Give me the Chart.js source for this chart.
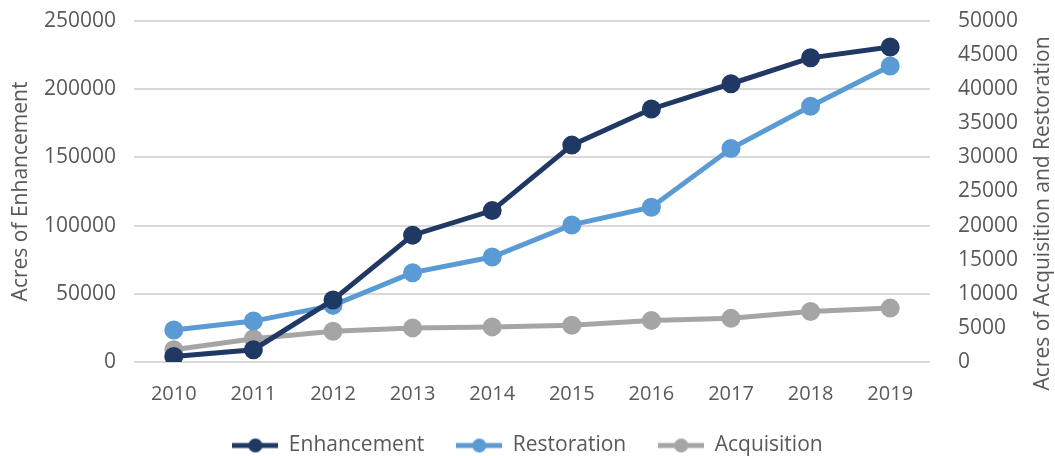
<!DOCTYPE html>
<html>
<head>
<meta charset="utf-8">
<script src="https://cdn.jsdelivr.net/npm/chart.js@4/dist/chart.umd.min.js"></script>
<style>
  html, body { margin: 0; padding: 0; background: #fff; }
  #wrap { width: 1055px; height: 456px; position: relative; }
</style>
</head>
<body>
<div id="wrap"><canvas id="myChart"></canvas></div>
<script>
// data
const years = ["2010", "2011", "2012", "2013", "2014", "2015", "2016", "2017", "2018", "2019"];
const enhancement = [4000, 9000, 45500, 93000, 111000, 159000, 185500, 204000, 223000, 231000];
const restoration = [4700, 6000, 8300, 13100, 15400, 20100, 22700, 31300, 37500, 43400];
const acquisition = [1800, 3400, 4500, 5000, 5150, 5400, 6100, 6400, 7400, 7900];
const leftTicks = [0, 50000, 100000, 150000, 200000, 250000];
const rightTicks = [0, 5000, 10000, 15000, 20000, 25000, 30000, 35000, 40000, 45000, 50000];

const FONT = "'Open Sans', sans-serif";
const TEXT = "#595959";

// line-with-dot images for the legend
function legendMark(color) {
  const c = document.createElement("canvas");
  c.width = 46;
  c.height = 16;
  const g = c.getContext("2d");
  g.strokeStyle = color;
  g.lineWidth = 5;
  g.beginPath();
  g.moveTo(0, 8);
  g.lineTo(46, 8);
  g.stroke();
  g.fillStyle = color;
  g.beginPath();
  g.arc(23, 8, 7, 0, Math.PI * 2);
  g.fill();
  return c;
}

function series(label, data, color, axis) {
  return {
    label: label,
    data: data,
    yAxisID: axis,
    borderColor: color,
    backgroundColor: color,
    borderWidth: 5,
    pointRadius: 7,
    pointHoverRadius: 7,
    pointStyle: "circle",
    tension: 0,
  };
}

// keep tick padding from pushing the plot area down
function vertFit(width) {
  return (s) => {
    s.width = width;
    s.paddingTop = 12;
    s.paddingBottom = 12;
  };
}

// legend padding is also its top gap, pull it back up under the year labels
const legendShift = {
  id: "legendShift",
  afterLayout(chart) {
    const l = chart.legend;
    if (!l) return;
    l.top -= 21;
    l.bottom -= 21;
  },
};

// right axis title reads bottom to top, like the left one
const rightTitle = {
  id: "rightTitle",
  afterDraw(chart) {
    const ctx = chart.ctx;
    const area = chart.chartArea;
    ctx.save();
    ctx.translate(1043, (area.top + area.bottom) / 2 + 22);
    ctx.rotate(-Math.PI / 2);
    ctx.font = "21px " + FONT;
    ctx.fillStyle = TEXT;
    ctx.textAlign = "center";
    ctx.textBaseline = "middle";
    ctx.fillText("Acres of Acquisition and Restoration", 0, 0);
    ctx.restore();
  },
};

const ctx = document.getElementById("myChart");
new Chart(ctx, {
  type: "line",
  data: {
    labels: years,
    datasets: [
      series("Enhancement", enhancement, "#203864", "y"),
      series("Restoration", restoration, "#5b9bd5", "y1"),
      series("Acquisition", acquisition, "#a5a5a5", "y1"),
    ],
  },
  options: {
    responsive: true,
    maintainAspectRatio: false,
    animation: false,
    layout: { padding: { top: 21, left: 0, right: 0, bottom: -31 } },
    scales: {
      x: {
        offset: true,
        afterFit: (s) => { s.height = 62; },
        grid: { display: false },
        border: { display: false },
        ticks: { color: TEXT, font: { family: FONT, size: 20 }, padding: 12, maxRotation: 0 },
      },
      y: {
        position: "left",
        min: 0,
        max: 250000,
        afterBuildTicks: (s) => { s.ticks = leftTicks.map((v) => ({ value: v })); },
        afterFit: vertFit(134),
        grid: { color: "#d9d9d9", lineWidth: 2, drawTicks: false },
        border: { display: false },
        ticks: { color: TEXT, font: { family: FONT, size: 21 }, padding: 18, callback: (v) => String(v) },
        title: { display: true, text: "Acres of Enhancement", color: TEXT, font: { family: FONT, size: 21 }, padding: { top: 8, bottom: 0 } },
      },
      y1: {
        position: "right",
        min: 0,
        max: 50000,
        afterBuildTicks: (s) => { s.ticks = rightTicks.map((v) => ({ value: v })); },
        afterFit: vertFit(125),
        grid: { display: false },
        border: { display: false },
        ticks: { color: TEXT, font: { family: FONT, size: 21 }, padding: 20, callback: (v) => String(v) },
      },
    },
    plugins: {
      tooltip: { enabled: false },
      legend: {
        position: "bottom",
        labels: {
          usePointStyle: true,
          pointStyleWidth: 46,
          color: TEXT,
          font: { family: FONT, size: 21 },
          padding: 32,
          generateLabels: (chart) =>
            chart.data.datasets.map((d, i) => ({
              text: d.label,
              fontColor: TEXT,
              pointStyle: legendMark(d.borderColor),
              lineWidth: 0,
              strokeStyle: "transparent",
              fillStyle: d.borderColor,
              datasetIndex: i,
            })),
        },
      },
    },
  },
  plugins: [rightTitle, legendShift],
});
</script>
</body>
</html>
